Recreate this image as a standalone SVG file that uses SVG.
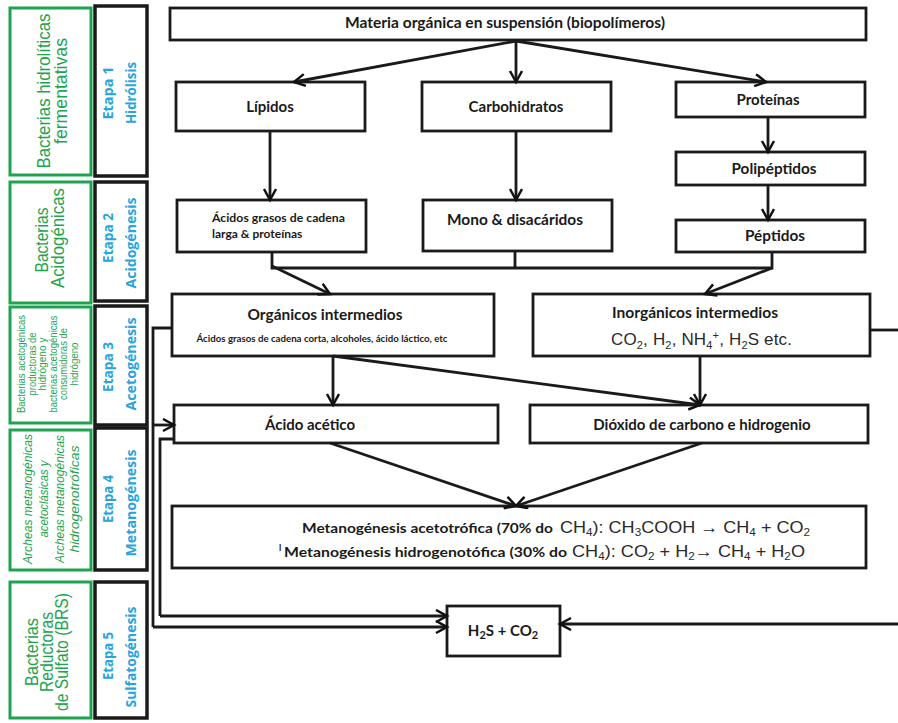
<svg xmlns="http://www.w3.org/2000/svg" width="898" height="723" viewBox="0 0 898 723">
<defs>
<marker id="arr" markerUnits="userSpaceOnUse" markerWidth="16" markerHeight="16" refX="12" refY="7" orient="auto">
<path d="M1,1 L12,7 L1,13" fill="none" stroke="#111" stroke-width="2.5"/>
</marker>
<style>
.gbox{fill:#fff;stroke:#1ea34f;stroke-width:3}
.bbox{fill:#fff;stroke:#1a1a1a;stroke-width:3.5}
.node{fill:#fff;stroke:#1a1a1a;stroke-width:2.8}
.gt{font-family:"Liberation Sans Narrow","Liberation Sans",sans-serif;fill:#1ea34f;text-anchor:middle}
.bt{font-family:"Open Sans","Liberation Sans",sans-serif;font-weight:bold;fill:#2aa5dc;text-anchor:middle}
.nt{font-family:Lato,"Open Sans",sans-serif;font-weight:bold;fill:#1a1a1a}
.m{text-anchor:middle}
.ar{font-family:"Liberation Sans",Arial,sans-serif;fill:#2a2a2a;font-weight:normal}
.c{fill:none;stroke:#1a1a1a;stroke-width:2.8}
.ca{fill:none;stroke:#1a1a1a;stroke-width:2.8;marker-end:url(#arr)}
</style>
</defs>
<rect width="898" height="723" fill="#fff"/>

<!-- left column: organisms -->
<g id="org1"><rect class="gbox" x="10" y="8" width="81" height="167"/>
<g transform="translate(0,91) rotate(-90)"><text class="gt" x="0" y="50" font-size="18" textLength="155" lengthAdjust="spacingAndGlyphs">Bacterias hidrolíticas</text><text class="gt" x="0" y="67" font-size="18" textLength="106" lengthAdjust="spacingAndGlyphs">fermentativas</text></g></g>
<g id="org2"><rect class="gbox" x="10" y="182" width="81" height="121"/>
<g transform="translate(0,240) rotate(-90)"><text class="gt" x="0" y="48" font-size="18" textLength="65" lengthAdjust="spacingAndGlyphs">Bacterias</text><text class="gt" x="2" y="64" font-size="18" textLength="100" lengthAdjust="spacingAndGlyphs">Acidogénicas</text></g></g>
<g id="org3"><rect class="gbox" x="10" y="307" width="81" height="116"/>
<g transform="translate(0,364) rotate(-90)" font-size="10">
<text class="gt" x="0" y="25" textLength="98" lengthAdjust="spacingAndGlyphs">Bacterias acetogénicas</text>
<text class="gt" x="0" y="35.5" textLength="63" lengthAdjust="spacingAndGlyphs">productoras de</text>
<text class="gt" x="0" y="46" textLength="53" lengthAdjust="spacingAndGlyphs">hidrógeno y</text>
<text class="gt" x="0" y="56.5" textLength="97" lengthAdjust="spacingAndGlyphs">bacterias acetogénicas</text>
<text class="gt" x="0" y="67" textLength="72" lengthAdjust="spacingAndGlyphs">consumidoras de</text>
<text class="gt" x="0" y="77.5" textLength="43" lengthAdjust="spacingAndGlyphs">hidrógeno</text></g></g>
<g id="org4"><rect class="gbox" x="10" y="430" width="81" height="140"/>
<g transform="translate(0,499) rotate(-90)" font-size="13.5" font-style="italic">
<text class="gt" x="0" y="32" textLength="130" lengthAdjust="spacingAndGlyphs">Archeas metanogénicas</text>
<text class="gt" x="0" y="48" textLength="77" lengthAdjust="spacingAndGlyphs">acetoclásicas y</text>
<text class="gt" x="0" y="64" textLength="128" lengthAdjust="spacingAndGlyphs">Archeas metanogénicas</text>
<text class="gt" x="0" y="79" textLength="107" lengthAdjust="spacingAndGlyphs">hidrogenotróficas</text></g></g>
<g id="org5"><rect class="gbox" x="10" y="582" width="81" height="136"/>
<g transform="translate(0,652) rotate(-90)" font-size="18">
<text class="gt" x="0" y="38" textLength="68" lengthAdjust="spacingAndGlyphs">Bacterias</text>
<text class="gt" x="0" y="53" textLength="80" lengthAdjust="spacingAndGlyphs">Reductoras</text>
<text class="gt" x="0" y="68" textLength="118" lengthAdjust="spacingAndGlyphs">de Sulfato (BRS)</text></g></g>

<!-- stages -->
<g id="stage1"><rect class="bbox" x="95" y="6" width="52" height="170"/>
<g transform="translate(0,93) rotate(-90)" font-size="14"><text class="bt" x="0" y="113" textLength="53" lengthAdjust="spacingAndGlyphs">Etapa 1</text><text class="bt" x="0" y="136" textLength="62" lengthAdjust="spacingAndGlyphs">Hidrólisis</text></g></g>
<g id="stage2"><rect class="bbox" x="95" y="182" width="52" height="119"/>
<g transform="translate(0,241) rotate(-90)" font-size="14"><text class="bt" x="3" y="113" textLength="50" lengthAdjust="spacingAndGlyphs">Etapa 2</text><text class="bt" x="-2" y="136" textLength="91" lengthAdjust="spacingAndGlyphs">Acidogénesis</text></g></g>
<g id="stage3"><rect class="bbox" x="95" y="306" width="52" height="119"/>
<g transform="translate(0,364) rotate(-90)" font-size="14"><text class="bt" x="-3" y="113" textLength="50" lengthAdjust="spacingAndGlyphs">Etapa 3</text><text class="bt" x="0" y="136" textLength="93" lengthAdjust="spacingAndGlyphs">Acetogénesis</text></g></g>
<g id="stage4"><rect class="bbox" x="95" y="428" width="52" height="142"/>
<g transform="translate(0,501) rotate(-90)" font-size="14"><text class="bt" x="2" y="113" textLength="48" lengthAdjust="spacingAndGlyphs">Etapa 4</text><text class="bt" x="-2" y="136" textLength="107" lengthAdjust="spacingAndGlyphs">Metanogénesis</text></g></g>
<g id="stage5"><rect class="bbox" x="95" y="582" width="52" height="136"/>
<g transform="translate(0,656) rotate(-90)" font-size="14"><text class="bt" x="0" y="113" textLength="48" lengthAdjust="spacingAndGlyphs">Etapa 5</text><text class="bt" x="-1" y="136" textLength="101" lengthAdjust="spacingAndGlyphs">Sulfatogénesis</text></g></g>

<!-- nodes -->
<g id="materia"><rect class="node" x="170" y="8" width="696" height="32"/><text class="nt m" x="505" y="28" font-size="15" textLength="320" lengthAdjust="spacingAndGlyphs">Materia orgánica en suspensión (biopolímeros)</text></g>
<g id="lipidos"><rect class="node" x="176" y="82" width="189" height="49"/><text class="nt m" x="270" y="112" font-size="15">Lípidos</text></g>
<g id="carbohidratos"><rect class="node" x="422" y="82" width="189" height="49"/><text class="nt m" x="516" y="112" font-size="15">Carbohidratos</text></g>
<g id="proteinas"><rect class="node" x="676" y="82" width="189" height="35"/><text class="nt m" x="768" y="105" font-size="15">Proteínas</text></g>
<g id="polipeptidos"><rect class="node" x="676" y="152" width="189" height="33"/><text class="nt m" x="774" y="174" font-size="15" textLength="85" lengthAdjust="spacingAndGlyphs">Polipéptidos</text></g>
<g id="acidosgrasos"><rect class="node" x="177" y="200" width="189" height="52"/><text class="nt" x="212" y="222" font-size="12" textLength="133" lengthAdjust="spacingAndGlyphs">Ácidos grasos de cadena</text><text class="nt" x="212" y="238" font-size="12">larga &amp; proteínas</text></g>
<g id="mono"><rect class="node" x="423" y="200" width="189" height="51"/><text class="nt m" x="515" y="225" font-size="15" textLength="136" lengthAdjust="spacingAndGlyphs">Mono &amp; disacáridos</text></g>
<g id="peptidos"><rect class="node" x="676" y="220" width="189" height="32"/><text class="nt m" x="775" y="241" font-size="15" textLength="60" lengthAdjust="spacingAndGlyphs">Péptidos</text></g>
<g id="organicos"><rect class="node" x="172" y="294" width="322" height="62"/><text class="nt m" x="325" y="320" font-size="16" textLength="155" lengthAdjust="spacingAndGlyphs">Orgánicos intermedios</text><text class="nt m" x="322" y="342" font-size="9" textLength="251" lengthAdjust="spacingAndGlyphs">Ácidos grasos de cadena corta, alcoholes, ácido láctico, etc</text></g>
<g id="inorganicos"><rect class="node" x="533" y="294" width="337" height="62"/><text class="nt m" x="695" y="318" font-size="15" textLength="166" lengthAdjust="spacingAndGlyphs">Inorgánicos intermedios</text>
<text class="ar" x="611" y="345" font-size="17" textLength="181">CO<tspan font-size="11" dy="4">2</tspan><tspan dy="-4">, H</tspan><tspan font-size="11" dy="4">2</tspan><tspan dy="-4">, NH</tspan><tspan font-size="11" dy="4">4</tspan><tspan font-size="11" dy="-10">+</tspan><tspan dy="6">, H</tspan><tspan font-size="11" dy="4">2</tspan><tspan dy="-4">S etc.</tspan></text></g>
<g id="acetico"><rect class="node" x="174" y="405" width="324" height="38"/><text class="nt m" x="310" y="430" font-size="15">Ácido acético</text></g>
<g id="dioxido"><rect class="node" x="530" y="405" width="338" height="38"/><text class="nt m" x="702" y="430" font-size="15">Dióxido de carbono  e  hidrogenio</text></g>
<g id="metanogenesis"><rect class="node" x="172" y="506" width="694" height="62"/>
<text class="nt" x="302" y="533" font-size="14" textLength="251" lengthAdjust="spacingAndGlyphs">Metanogénesis acetotrófica  (70% do</text>
<text class="ar" x="560" y="533" font-size="17" textLength="250" lengthAdjust="spacingAndGlyphs">CH<tspan font-size="11" dy="3">4</tspan><tspan dy="-3">): CH</tspan><tspan font-size="11" dy="3">3</tspan><tspan dy="-3">COOH → CH</tspan><tspan font-size="11" dy="3">4</tspan><tspan dy="-3"> + CO</tspan><tspan font-size="11" dy="3">2</tspan></text>
<text class="nt" x="279" y="551" font-size="9">l</text>
<text class="nt" x="284" y="557" font-size="14" textLength="283" lengthAdjust="spacingAndGlyphs">Metanogénesis hidrogenotófica  (30% do</text>
<text class="ar" x="572" y="557" font-size="17" textLength="233" lengthAdjust="spacingAndGlyphs">CH<tspan font-size="11" dy="3">4</tspan><tspan dy="-3">): CO</tspan><tspan font-size="11" dy="3">2</tspan><tspan dy="-3"> + H</tspan><tspan font-size="11" dy="3">2</tspan><tspan dy="-3">→  CH</tspan><tspan font-size="11" dy="3">4</tspan><tspan dy="-3"> + H</tspan><tspan font-size="11" dy="3">2</tspan><tspan dy="-3">O</tspan></text></g>
<g id="h2s"><rect class="node" x="447" y="606" width="113" height="50"/><text class="nt m" x="503" y="636" font-size="15">H<tspan font-size="11" dy="3">2</tspan><tspan dy="-3">S + CO</tspan><tspan font-size="11" dy="3">2</tspan></text></g>

<!-- connectors -->
<g id="connectors">
<path class="ca" d="M516,41 L294,82"/>
<path class="ca" d="M516,41 L516,82"/>
<path class="ca" d="M516,41 L766,82"/>
<path class="ca" d="M270,131 L270,200"/>
<path class="ca" d="M516,131 L516,200"/>
<path class="ca" d="M768,117 L768,152"/>
<path class="ca" d="M768,185 L768,220"/>
<path class="c" d="M272,252 L272,268 L772,268 L772,252"/>
<path class="c" d="M515,251 L515,268"/>
<path class="ca" d="M272,266 L330,294"/>
<path class="ca" d="M772,268 L705,294"/>
<path class="ca" d="M333,356 L333,405"/>
<path class="ca" d="M333,356 L700,405"/>
<path class="ca" d="M700,356 L700,405"/>
<path class="c" d="M870,330 L898,330"/>
<path class="ca" d="M330,443 L516,506"/>
<path class="ca" d="M702,443 L516,506"/>
<path class="ca" d="M898,624 L560,624"/>
<path class="c" d="M172,328 L153,328 L153,627"/>
<path class="ca" d="M153,425 L174,425"/>
<path class="ca" d="M153,627 L447,627"/>
<path class="c" d="M174,439 L160,439 L160,616"/>
<path class="ca" d="M160,616 L447,616"/>
</g>
</svg>
